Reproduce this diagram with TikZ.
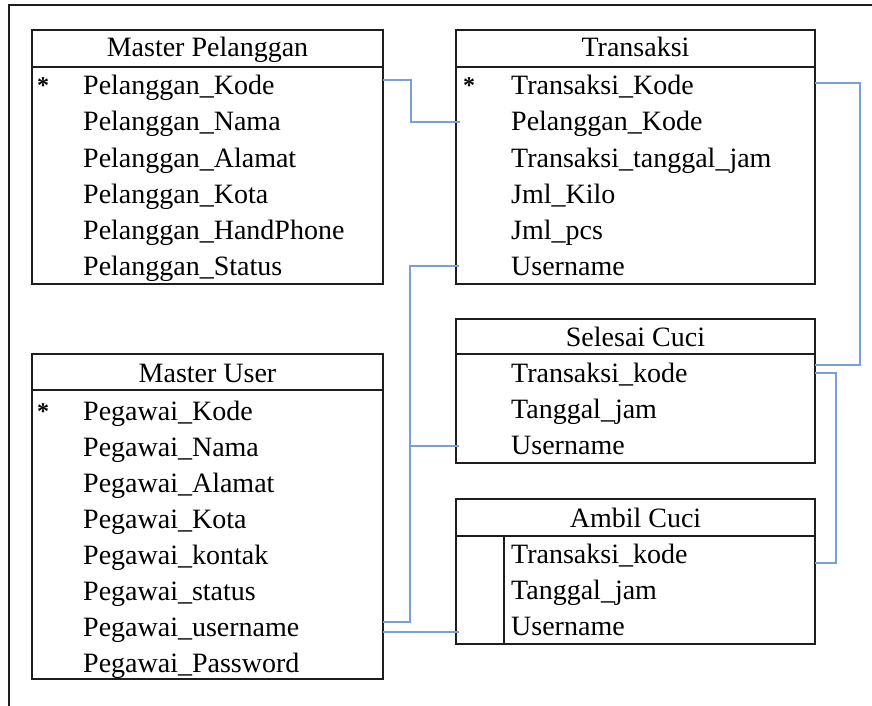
\documentclass[tikz,border=0pt]{standalone}
\usepackage{fontspec}
\setmainfont{Liberation Serif}
\definecolor{linkblue}{RGB}{120,160,215}
\definecolor{frame}{RGB}{30,30,30}
\begin{document}
\begin{tikzpicture}[x=1pt,y=-1pt,
  tbl/.style={draw=frame, line width=1.4pt, inner sep=0pt, outer sep=0pt, anchor=north west},
  txt/.style={inner sep=0pt, anchor=base west, font=\fontsize{28}{33}\selectfont},
  ttl/.style={inner sep=0pt, anchor=base, font=\fontsize{28}{33}\selectfont},
  key/.style={inner sep=0pt, anchor=base, font=\fontsize{24}{28}\selectfont\bfseries},
  link/.style={draw=linkblue, line width=1.6pt}]
\useasboundingbox (0,0) rectangle (872,706);

% outer frame (top and left edges)
\draw[line width=1.5pt, frame] (9,706) -- (9,5) -- (872,5);

% ---------- Master Pelanggan ----------
\node[tbl, minimum width=351pt, minimum height=254pt] (mp) at (32,30) {};
\draw[frame, line width=1.4pt] (32,67) -- (383,67);
\node[ttl] (mpt) at (207.5,57) {Master Pelanggan};
\node[key] (mpk) at (43,94) {*};
\node[txt] (mp1) at (83,95)  {Pelanggan\_Kode};
\node[txt] (mp2) at (83,131) {Pelanggan\_Nama};
\node[txt] (mp3) at (83,167) {Pelanggan\_Alamat};
\node[txt] (mp4) at (83,203) {Pelanggan\_Kota};
\node[txt] (mp5) at (83,239) {Pelanggan\_HandPhone};
\node[txt] (mp6) at (83,275) {Pelanggan\_Status};

% ---------- Transaksi ----------
\node[tbl, minimum width=359pt, minimum height=254pt] (tr) at (456,30) {};
\draw[frame, line width=1.4pt] (456,67) -- (815,67);
\node[ttl] (trt) at (635.5,57) {Transaksi};
\node[key] (trk) at (469,94) {*};
\node[txt] (tr1) at (511,95)  {Transaksi\_Kode};
\node[txt] (tr2) at (511,131) {Pelanggan\_Kode};
\node[txt] (tr3) at (511,167) {Transaksi\_tanggal\_jam};
\node[txt] (tr4) at (511,203) {Jml\_Kilo};
\node[txt] (tr5) at (511,239) {Jml\_pcs};
\node[txt] (tr6) at (511,275) {Username};

% ---------- Master User ----------
\node[tbl, minimum width=351pt, minimum height=325pt] (mu) at (32,354) {};
\draw[frame, line width=1.4pt] (32,390) -- (383,390);
\node[ttl] (mut) at (207.5,382) {Master User};
\node[key] (muk) at (43,419) {*};
\node[txt] (mu1) at (83,420) {Pegawai\_Kode};
\node[txt] (mu2) at (83,456) {Pegawai\_Nama};
\node[txt] (mu3) at (83,492) {Pegawai\_Alamat};
\node[txt] (mu4) at (83,528) {Pegawai\_Kota};
\node[txt] (mu5) at (83,564) {Pegawai\_kontak};
\node[txt] (mu6) at (83,600) {Pegawai\_status};
\node[txt] (mu7) at (83,636) {Pegawai\_username};
\node[txt] (mu8) at (83,672) {Pegawai\_Password};

% ---------- Selesai Cuci ----------
\node[tbl, minimum width=359pt, minimum height=144pt] (sc) at (456,319) {};
\draw[frame, line width=1.4pt] (456,354) -- (815,354);
\node[ttl] (sct) at (635.5,346) {Selesai Cuci};
\node[txt] (sc1) at (511,382) {Transaksi\_kode};
\node[txt] (sc2) at (511,418) {Tanggal\_jam};
\node[txt] (sc3) at (511,454) {Username};

% ---------- Ambil Cuci ----------
\node[tbl, minimum width=359pt, minimum height=145pt] (ac) at (456,499) {};
\draw[frame, line width=1.4pt] (456,536) -- (815,536);
\draw[frame, line width=1.4pt] (504,536) -- (504,644);
\node[ttl] (act) at (635.5,527) {Ambil Cuci};
\node[txt] (ac1) at (511,563) {Transaksi\_kode};
\node[txt] (ac2) at (511,599) {Tanggal\_jam};
\node[txt] (ac3) at (511,635) {Username};

% ---------- relations ----------
\coordinate (j1) at (411,122);
\coordinate (j2) at (410,266);
\coordinate (j3) at (410,446);
\coordinate (j4) at (860,365);
\coordinate (j5) at (836,563);

\draw[link] (mp.east |- 0,80) -| (j1) -- ([xshift=4pt]tr.west |- j1);
\draw[link] (mu.east |- 0,622) -| (j2) -- ([xshift=3pt]tr.west |- j2);
\draw[link] (j3) -- ([xshift=3pt]sc.west |- j3);
\draw[link] (mu.east |- 0,632) -- ([xshift=3pt]ac.west |- 0,632);
\draw[link] (tr.east |- 0,83) -| (j4) -- (sc.east |- j4);
\draw[link] (sc.east |- 0,373) -| (j5) -- (ac.east |- j5);
\end{tikzpicture}
\end{document}
